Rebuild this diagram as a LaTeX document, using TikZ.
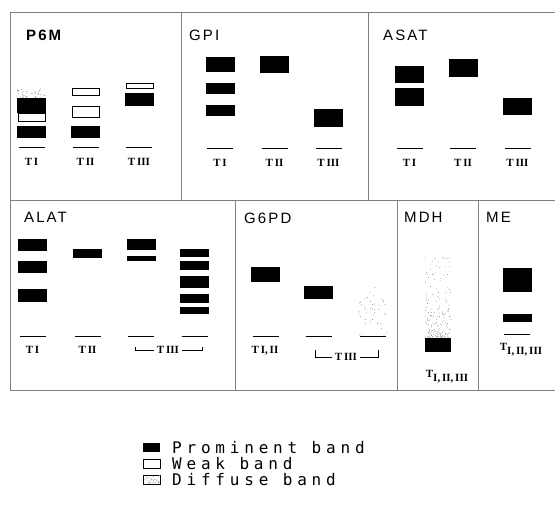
\documentclass[tikz,border=0pt]{standalone}
\usepackage{fontspec}
\usetikzlibrary{calc}
\newfontfamily\labfont[LetterSpace=14]{Liberation Sans}
\newfontfamily\lanefont{Liberation Serif}
\newfontfamily\legfont[LetterSpace=30]{DejaVu Sans Mono}

% random dots inside a node: #1 node, #2 dots, #3 power (>1 = denser at bottom)
\newcommand{\stipple}[3]{%
  \foreach \k in {1,...,#2}
    \fill[stip] let \p1=(#1.south west), \p2=(#1.north east) in
      ({\x1+rnd*(\x2-\x1)},{\y1+(\y2-\y1)*rnd^#3}) circle (0.45pt);
}

\begin{document}
\begin{tikzpicture}[x=1pt,y=-1pt,
  frame/.style={draw=black!50,line width=0.7pt},
  prom/.style={fill=black,inner sep=0pt,minimum width=29pt,minimum height=#1},
  weak/.style={draw=black,line width=0.8pt,fill=white,inner sep=0pt,
               minimum width=27pt,minimum height=#1},
  diff/.style={inner sep=0pt,minimum width=28pt,minimum height=#1},
  stip/.style={fill=black!50},
  base/.style={line width=0.8pt},
  gel/.style={font=\labfont\fontsize{15}{17}\selectfont,anchor=west,inner sep=0pt},
  lane/.style={font=\lanefont\bfseries\fontsize{11}{13}\selectfont,inner sep=0pt},
  leg/.style={font=\legfont\fontsize{16}{18}\selectfont,anchor=west,inner sep=0pt}
]
\useasboundingbox (0,0) rectangle (555,508);
\pgfmathsetseed{11}

% panel frames
\draw[frame] (10,12) -- (555,12);
\draw[frame] (10,200) -- (555,200);
\draw[frame] (10,12) -- (10,390) -- (555,390);
\foreach \x in {181,368} \draw[frame] (\x,12) -- (\x,200);
\foreach \x in {235,397,478} \draw[frame] (\x,200) -- (\x,390);

% lane baselines
\foreach \x/\y in {31.5/147,85.5/147,139/147,220/148,274.5/148,328.5/148,
                   409.5/148,463/148,517.5/148,32.5/336,87.5/336,141/336,
                   194.5/336,265.5/336,318.5/336,373/336,517/334}
  \draw[base] (\x-13,\y) -- (\x+13,\y);

% P6M
\node[gel,font=\labfont\bfseries\fontsize{15}{17}\selectfont] (p6m) at (26,35) {P6M};
\node[diff=9] (p6m-d) at (31.5,93.5) {};
\stipple{p6m-d}{45}{1}
\node[prom=15] (p6m-1a) at (31.5,105.5) {};
\node[weak=8] (p6m-1b) at (31.5,117) {};
\node[prom=12] (p6m-1c) at (31.5,132) {};
\node[weak=7] (p6m-2a) at (85.5,91.5) {};
\node[weak=11] (p6m-2b) at (85.5,111.5) {};
\node[prom=12] (p6m-2c) at (85.5,132) {};
\node[weak=5] (p6m-3a) at (139.5,85.5) {};
\node[prom=13] (p6m-3b) at (139,99.5) {};
\node[lane] (p6m-t1) at (31.5,162) {T\,I};
\node[lane] (p6m-t2) at (85.5,162) {T\,II};
\node[lane] (p6m-t3) at (139,162) {T\,III};

% GPI
\node[gel] (gpi) at (189,35) {GPI};
\node[prom=15] (gpi-1a) at (220,64.5) {};
\node[prom=11] (gpi-1b) at (220,88.5) {};
\node[prom=11] (gpi-1c) at (220,110.5) {};
\node[prom=17] (gpi-2a) at (274.5,64.5) {};
\node[prom=18] (gpi-3a) at (328.5,118) {};
\node[lane] (gpi-t1) at (220,163) {T\,I};
\node[lane] (gpi-t2) at (274.5,163) {T\,II};
\node[lane] (gpi-t3) at (328.5,163) {T\,III};

% ASAT
\node[gel] (asat) at (383,35) {ASAT};
\node[prom=17] (asat-1a) at (409.5,74.5) {};
\node[prom=18] (asat-1b) at (409.5,97) {};
\node[prom=18] (asat-2a) at (463,68) {};
\node[prom=17] (asat-3a) at (517.5,106.5) {};
\node[lane] (asat-t1) at (409.5,163) {T\,I};
\node[lane] (asat-t2) at (463,163) {T\,II};
\node[lane] (asat-t3) at (517.5,163) {T\,III};

% ALAT
\node[gel] (alat) at (24,217) {ALAT};
\node[prom=12] (alat-1a) at (32.5,245) {};
\node[prom=12] (alat-1b) at (32.5,267) {};
\node[prom=13] (alat-1c) at (32.5,295.5) {};
\node[prom=9] (alat-2a) at (87.5,253.5) {};
\node[prom=11] (alat-3a) at (141,244.5) {};
\node[prom=5] (alat-3b) at (141,258.5) {};
\node[prom=8] (alat-4a) at (194.5,253) {};
\node[prom=9] (alat-4b) at (194.5,265.5) {};
\node[prom=12] (alat-4c) at (194.5,282) {};
\node[prom=9] (alat-4d) at (194.5,298.5) {};
\node[prom=7] (alat-4e) at (194.5,310.5) {};
\node[lane] (alat-t1) at (32.5,350) {T\,I};
\node[lane] (alat-t2) at (87.5,350) {T\,II};
\node[lane] (alat-t3) at (168,350) {T\,III};
\coordinate (alat-bl) at (135,347);
\coordinate (alat-br) at (202,347);
\draw[thin] (alat-t3.west) ++(-3,0) -| (alat-bl);
\draw[thin] (alat-t3.east) ++(3,0) -| (alat-br);

% G6PD
\node[gel] (g6pd) at (244,218) {G6PD};
\node[prom=15] (g6pd-1a) at (265.5,274.5) {};
\node[prom=13] (g6pd-2a) at (318.5,292.5) {};
\node[diff=51] (g6pd-3d) at (373,309.5) {};
\stipple{g6pd-3d}{45}{1}
\node[lane] (g6pd-t1) at (265,351) {T\,I,\,II};
\node[lane] (g6pd-t3) at (346,357) {T\,III};
\coordinate (g6pd-bl) at (315,350);
\coordinate (g6pd-br) at (378,350);
\draw[thin] (g6pd-t3.west) ++(-3,0) -| (g6pd-bl);
\draw[thin] (g6pd-t3.east) ++(3,0) -| (g6pd-br);

% MDH
\node[gel] (mdh) at (404,217) {MDH};
\node[diff=80,minimum width=26pt] (mdh-d) at (438,297) {};
\stipple{mdh-d}{170}{2}
\node[prom=14,minimum width=26pt] (mdh-1a) at (438,345) {};
\node[lane] (mdh-t) at (447,377) {\raisebox{4pt}{T}I,\,II,\,III};

% ME
\node[gel] (me) at (486,217) {ME};
\node[prom=24] (me-1a) at (517.5,280) {};
\node[prom=8] (me-1b) at (517.5,318) {};
\node[lane] (me-t) at (521,350) {\raisebox{4pt}{T}I,\,II,\,III};

% legend
\node[prom=9,minimum width=17pt] (leg-p) at (151.5,447.5) {};
\node[weak=9,minimum width=17pt] (leg-w) at (151.5,464) {};
\node[diff=9,minimum width=17pt,draw,line width=0.6pt] (leg-d) at (151.5,480) {};
\stipple{leg-d}{30}{1}
\node[leg] (leg-pt) at (172,447.5) {Prominent band};
\node[leg] (leg-wt) at (172,464) {Weak band};
\node[leg] (leg-dt) at (172,480) {Diffuse band};
\end{tikzpicture}
\end{document}
